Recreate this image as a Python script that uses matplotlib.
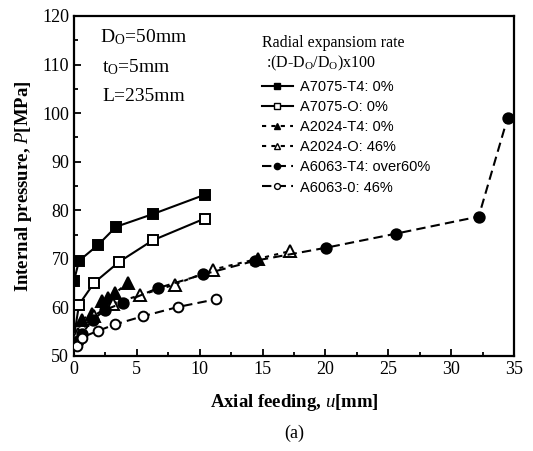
import numpy as np
import matplotlib
matplotlib.use("Agg")
import matplotlib.pyplot as plt
from matplotlib.lines import Line2D
from matplotlib.ticker import MultipleLocator

plt.rcParams['font.family'] = ['Liberation Serif', 'DejaVu Serif']
plt.rcParams['mathtext.fontset'] = 'custom'
plt.rcParams['mathtext.rm'] = 'Liberation Serif'
plt.rcParams['mathtext.it'] = 'Liberation Serif:italic'
plt.rcParams['mathtext.bf'] = 'Liberation Serif:bold'

# ---- data ----
a7075_t4_x = [0.0, 0.4, 1.93, 3.34, 6.25, 10.4]
a7075_t4_y = [65.5, 69.6, 72.9, 76.6, 79.2, 83.2]

a7075_o_x = [0.0, 0.4, 1.61, 3.6, 6.25, 10.4]
a7075_o_y = [54.0, 60.6, 65.1, 69.4, 73.8, 78.3]

a2024_t4_x = [0.2, 0.6, 1.4, 2.2, 2.7, 3.3, 4.3, np.nan, 14.6]
a2024_t4_y = [54.0, 57.5, 58.6, 61.3, 62.0, 63.0, 65.1, np.nan, 70.0]

a2024_o_x = [0.3, 1.6, 3.1, 5.24, 8.0, 11.06, 17.2]
a2024_o_y = [54.5, 58.3, 60.8, 62.5, 64.7, 67.8, 71.6]

a6063_t4_x = [0.3, 0.6, 1.5, 2.5, 3.9, 6.7, 10.27, 14.38, 20.07, 25.63, 32.19, 34.5]
a6063_t4_y = [53.0, 54.5, 57.5, 59.5, 61.0, 64.0, 66.8, 69.6, 72.3, 75.2, 78.7, 99.1]

a6063_o_x = [0.2, 0.6, 1.93, 3.26, 5.5, 8.28, 11.33]
a6063_o_y = [52.0, 53.8, 55.2, 56.5, 58.2, 60.1, 61.7]

labels = ['A7075-T4: 0%', 'A7075-O: 0%', 'A2024-T4: 0%',
          'A2024-O: 46%', 'A6063-T4: over60%', 'A6063-0: 46%']

x_ticks = [0, 5, 10, 15, 20, 25, 30, 35]
y_ticks = [50, 60, 70, 80, 90, 100, 110, 120]

fig = plt.figure(figsize=(5.33, 4.51), dpi=100)
ax = fig.add_axes([74/533, 1-356/451, 440/533, 340/451])

solid = '-'
dotted = (0, (2.0, 2.5))
dashed = (0, (4.5, 2.5))
lw = 1.5
series = [
    (a7075_t4_x, a7075_t4_y, solid, 's', 'black', 6.5),
    (a7075_o_x, a7075_o_y, solid, 's', 'white', 6.5),
    (a2024_t4_x, a2024_t4_y, dotted, '^', 'black', 8),
    (a2024_o_x, a2024_o_y, dotted, '^', 'white', 8),
    (a6063_t4_x, a6063_t4_y, dashed, 'o', 'black', 7.5),
    (a6063_o_x, a6063_o_y, dashed, 'o', 'white', 7),
]
handles = []
for (xs, ys, ls, mk, fc, ms), lab in zip(series, labels):
    ax.plot(xs, ys, linestyle=ls, color='black', lw=lw, marker=mk,
            markerfacecolor=fc, markeredgecolor='black', markeredgewidth=1.4,
            markersize=ms, zorder=3)
    handles.append(Line2D([], [], linestyle=ls, color='black', lw=lw, marker=mk,
                          markerfacecolor=fc, markeredgecolor='black',
                          markeredgewidth=1.0, markersize=ms*0.6, label=lab))

ax.set_xlim(0, 35)
ax.set_ylim(50, 120)
ax.set_xticks(x_ticks)
ax.set_yticks(y_ticks)
ax.xaxis.set_minor_locator(MultipleLocator(2.5))
ax.yaxis.set_minor_locator(MultipleLocator(5))
ax.tick_params(which='both', direction='in', top=False, right=False,
               labelsize=13, width=1.3)
ax.tick_params(which='major', length=5)
ax.tick_params(which='minor', length=3)
for s in ax.spines.values():
    s.set_linewidth(1.6)

ax.set_xlabel('Axial feeding, $u$[mm]', fontsize=13.5, fontweight='bold', labelpad=10)
ax.set_ylabel('Internal pressure, $P$[MPa]', fontsize=13.5, fontweight='bold', labelpad=6)

fig.text(294/533, 1-433/451, '(a)', fontsize=13, ha='center', va='center')

ax.text((100-74)/440, 1-(37-16)/340, 'D$_\\mathrm{O}$=50mm', fontsize=14,
        transform=ax.transAxes, va='center')
ax.text((102-74)/440, 1-(67-16)/340, 't$_\\mathrm{O}$=5mm', fontsize=14,
        transform=ax.transAxes, va='center')
ax.text((102-74)/440, 1-(97-16)/340, 'L=235mm', fontsize=14,
        transform=ax.transAxes, va='center')

leg = ax.legend(handles=handles, loc='upper left',
                bbox_to_anchor=((262-74)/440, 1-(35-16)/340),
                frameon=False, borderpad=0, borderaxespad=0,
                handlelength=2.1, handletextpad=0.5, labelspacing=0.42,
                prop={'family': ['Liberation Sans', 'DejaVu Sans'], 'size': 10.5},
                title='Radial expansiom rate\n :(D-D$_\\mathrm{O}$/D$_\\mathrm{O}$)x100',
                title_fontproperties={'family': 'Liberation Serif', 'size': 11.5})
leg._legend_box.align = 'left'
leg._legend_box.sep = 5

fig.savefig('out.png', dpi=100)
